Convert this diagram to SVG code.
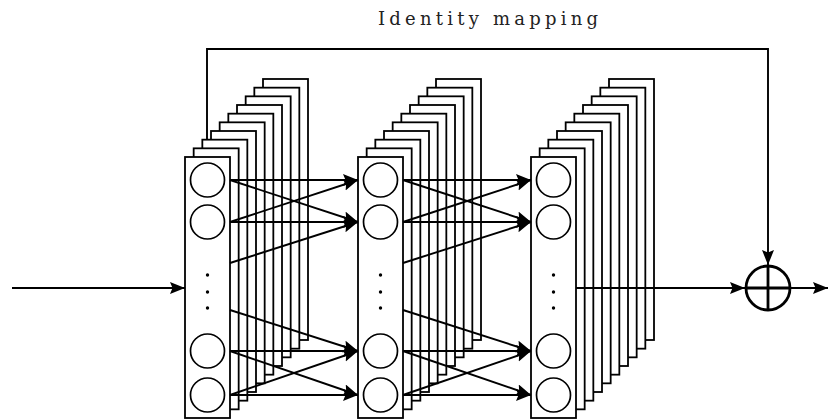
<svg xmlns="http://www.w3.org/2000/svg" xmlns:xlink="http://www.w3.org/1999/xlink" width="829" height="420" viewBox="0 0 829 420">
<style>
.box{fill:#fff;stroke:#000;stroke-width:1.8}
.neuron{fill:#fff;stroke:#000;stroke-width:1.7}
.dot{fill:#000}
.conn{fill:none;stroke:#000;stroke-width:1.9}
.sum{fill:#fff;stroke:#000;stroke-width:2.8}
.label{font-family:"DejaVu Serif","Liberation Serif",serif;font-size:18px;fill:#222}
</style>
<defs>
<marker id="ah" markerUnits="userSpaceOnUse" markerWidth="17" markerHeight="14" refX="15" refY="6" orient="auto">
<path d="M0,0 L15,6 L0,12 L2.5,6 z" fill="#000"/>
</marker>
<g id="layerShape">
<rect class="box" x="78" y="-78" width="45" height="261"/>
<rect class="box" x="69.33" y="-69.33" width="45" height="261"/>
<rect class="box" x="60.67" y="-60.67" width="45" height="261"/>
<rect class="box" x="52" y="-52" width="45" height="261"/>
<rect class="box" x="43.33" y="-43.33" width="45" height="261"/>
<rect class="box" x="34.67" y="-34.67" width="45" height="261"/>
<rect class="box" x="26" y="-26" width="45" height="261"/>
<rect class="box" x="17.33" y="-17.33" width="45" height="261"/>
<rect class="box" x="8.67" y="-8.67" width="45" height="261"/>
<rect class="box" x="0" y="0" width="45" height="261"/>
<circle class="neuron" cx="22.5" cy="23" r="17"/>
<circle class="neuron" cx="22.5" cy="65" r="17"/>
<circle class="dot" cx="22.5" cy="118" r="1.7"/>
<circle class="dot" cx="22.5" cy="135" r="1.7"/>
<circle class="dot" cx="22.5" cy="151" r="1.7"/>
<circle class="neuron" cx="22.5" cy="194" r="17"/>
<circle class="neuron" cx="22.5" cy="238" r="17"/>
</g>
</defs>
<rect width="829" height="420" fill="#fff"/>
<text class="label" x="378" y="25" textLength="220" lengthAdjust="spacing">Identity mapping</text>
<g id="skip-line">
<path class="conn" d="M207,157 V49 H768 V265" marker-end="url(#ah)"/>
</g>
<g id="layer1"><use xlink:href="#layerShape" href="#layerShape" x="185" y="157"/></g>
<g id="layer2"><use xlink:href="#layerShape" href="#layerShape" x="358" y="157"/></g>
<g id="layer3"><use xlink:href="#layerShape" href="#layerShape" x="531" y="157"/></g>
<g id="connectors">
<line class="conn" x1="12" y1="288" x2="185" y2="288" marker-end="url(#ah)"/>
<line class="conn" x1="230" y1="180" x2="358" y2="180" marker-end="url(#ah)"/>
<line class="conn" x1="230" y1="180" x2="358" y2="222" marker-end="url(#ah)"/>
<line class="conn" x1="230" y1="222" x2="358" y2="180" marker-end="url(#ah)"/>
<line class="conn" x1="230" y1="222" x2="358" y2="222" marker-end="url(#ah)"/>
<line class="conn" x1="230" y1="263" x2="358" y2="222" marker-end="url(#ah)"/>
<line class="conn" x1="230" y1="310" x2="358" y2="351" marker-end="url(#ah)"/>
<line class="conn" x1="230" y1="351" x2="358" y2="351" marker-end="url(#ah)"/>
<line class="conn" x1="230" y1="351" x2="358" y2="395" marker-end="url(#ah)"/>
<line class="conn" x1="230" y1="395" x2="358" y2="351" marker-end="url(#ah)"/>
<line class="conn" x1="230" y1="395" x2="358" y2="395" marker-end="url(#ah)"/>
<line class="conn" x1="403" y1="180" x2="531" y2="180" marker-end="url(#ah)"/>
<line class="conn" x1="403" y1="180" x2="531" y2="222" marker-end="url(#ah)"/>
<line class="conn" x1="403" y1="222" x2="531" y2="180" marker-end="url(#ah)"/>
<line class="conn" x1="403" y1="222" x2="531" y2="222" marker-end="url(#ah)"/>
<line class="conn" x1="403" y1="263" x2="531" y2="222" marker-end="url(#ah)"/>
<line class="conn" x1="403" y1="310" x2="531" y2="351" marker-end="url(#ah)"/>
<line class="conn" x1="403" y1="351" x2="531" y2="351" marker-end="url(#ah)"/>
<line class="conn" x1="403" y1="351" x2="531" y2="395" marker-end="url(#ah)"/>
<line class="conn" x1="403" y1="395" x2="531" y2="351" marker-end="url(#ah)"/>
<line class="conn" x1="403" y1="395" x2="531" y2="395" marker-end="url(#ah)"/>
<line class="conn" x1="576" y1="288" x2="745" y2="288" marker-end="url(#ah)"/>
<line class="conn" x1="791" y1="288" x2="828" y2="288" marker-end="url(#ah)"/>
</g>
<g id="sum">
<circle class="sum" cx="768" cy="288" r="22"/>
<line class="sum" x1="746" y1="288" x2="790" y2="288"/>
<line class="sum" x1="768" y1="266" x2="768" y2="310"/>
</g>
</svg>
